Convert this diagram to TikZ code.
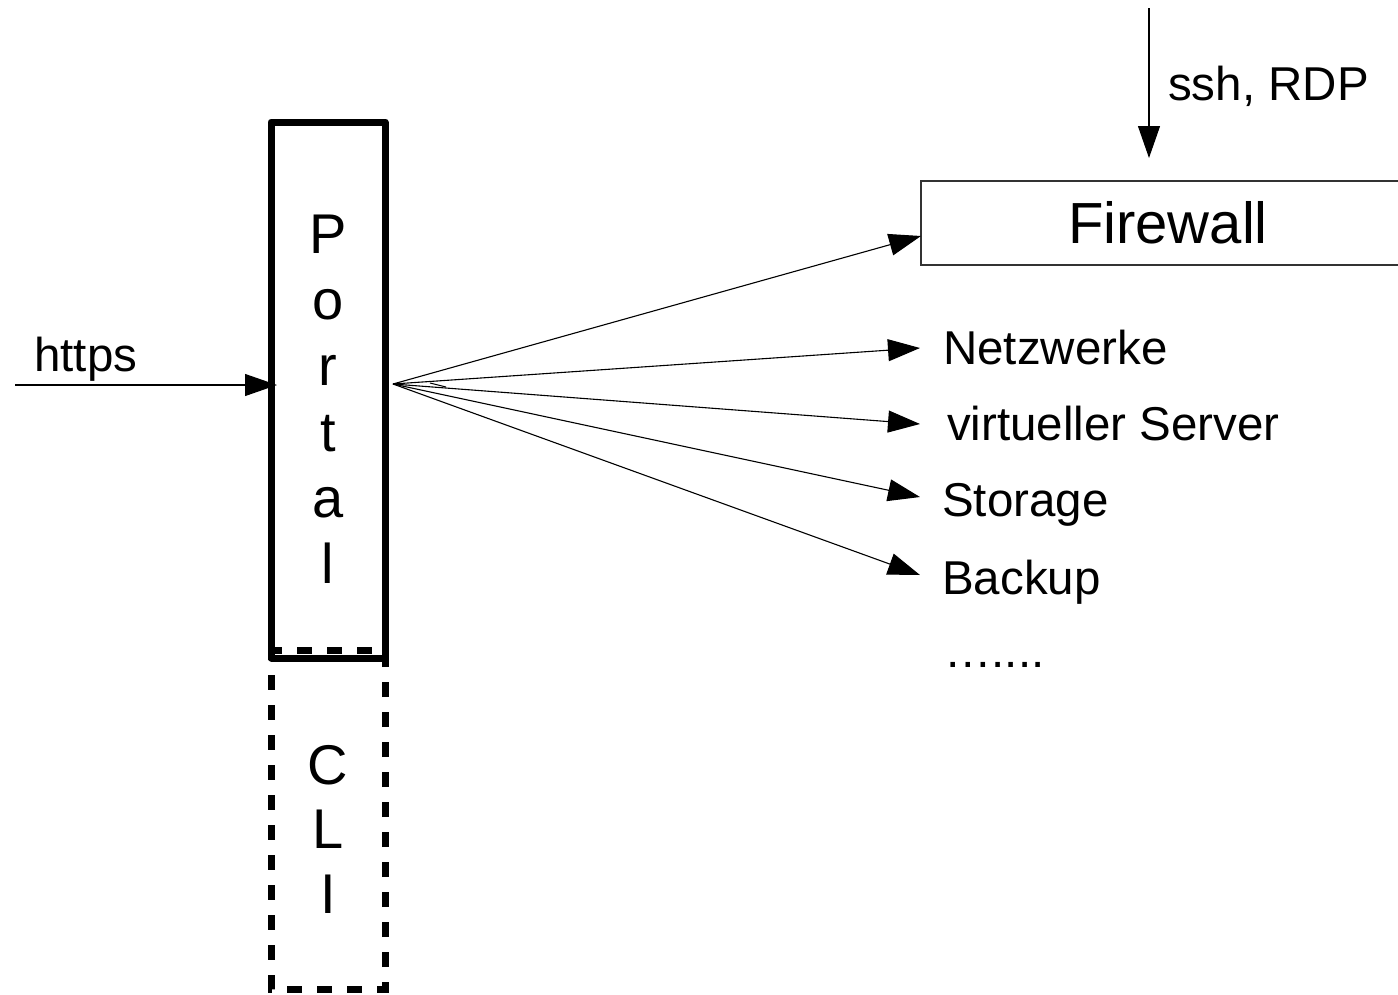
\documentclass[tikz,border=0pt]{standalone}
\usepackage{fontspec}
\setmainfont{Liberation Sans}
\usetikzlibrary{arrows.meta}
\begin{document}
\begin{tikzpicture}[x=1pt,y=-1pt,
  conn/.style={line width=1.1pt,-{Triangle[length=32pt,width=22pt]}},
  lbl/.style={anchor=base west,inner sep=0pt,font=\fontsize{47.5}{56}\selectfont},
  letter/.style={anchor=base,inner sep=0pt,font=\fontsize{56}{66}\selectfont},
  thickbox/.style={line width=7pt},
  dashbox/.style={line width=7pt,dash pattern=on 15pt off 15pt,dash phase=5pt}]
\useasboundingbox (0,0) rectangle (1398,994);
% boxes
\draw[dashbox] (271,650) rectangle (385,989);
\draw[thickbox,line join=round] (271,122) rectangle (385,658);
\node[letter] (p1) at (328,253) {P};
\node[letter] (p2) at (328,319) {o};
\node[letter] (p3) at (328,385) {r};
\node[letter] (p4) at (328,451) {t};
\node[letter] (p5) at (328,517) {a};
\node[letter] (p6) at (328,583) {l};
\node[letter] (c1) at (328,784) {C};
\node[letter] (c2) at (328,848) {L};
\node[letter] (c3) at (328,913) {I};
% firewall
\draw[line width=1.1pt,draw=black!80] (1398,181) -- (921,181) -- (921,265) -- (1398,265);
\node[anchor=base,inner sep=0pt,font=\fontsize{58}{66}\selectfont] (fw) at (1168,243) {Firewall};
\coordinate (fwin) at (921,236);
% labels
\node[lbl] (https) at (34,371) {https};
\node[lbl] (ssh) at (1168,100) {ssh, RDP};
\node[lbl] (netz) at (943,364) {Netzwerke};
\node[lbl] (vs) at (947,440) {virtueller Server};
\node[lbl] (stor) at (942,516) {Storage};
\node[lbl] (back) at (942,594) {Backup};
\node[lbl] (dots) at (944,667) {…....};
% connectors
\coordinate (hin) at (15,385);
\coordinate (hend) at (277,385);
\draw[conn] (hin) -- (hend);
\coordinate (sshtop) at (1149,8);
\coordinate (sshend) at (1149,158);
\draw[conn] (sshtop) -- (sshend);
\coordinate (fan) at (393,384);
\coordinate (t1) at (920,348);
\coordinate (t2) at (920,424);
\coordinate (t3) at (920,497);
\coordinate (t4) at (920,575);
\draw[conn] (fan) -- (fwin);
\draw[conn] (fan) -- (t1);
\draw[conn] (fan) -- (t2);
\draw[conn] (fan) -- (t3);
\draw[conn] (fan) -- (t4);
\coordinate (s1) at (430,383);
\coordinate (s2) at (446,387);
\draw[line width=1pt] (s1) -- (s2);
\end{tikzpicture}
\end{document}
